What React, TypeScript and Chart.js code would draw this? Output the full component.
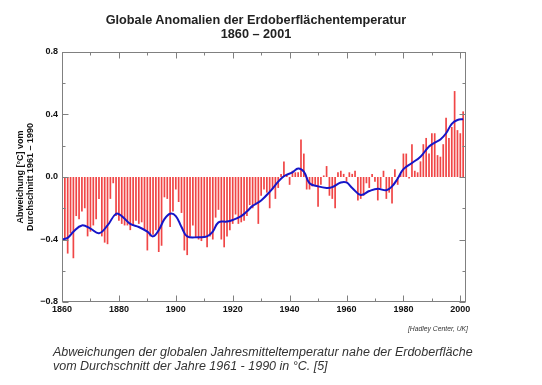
import React, { useEffect, useRef } from "react";
import { Chart, registerables } from "chart.js";

Chart.register(...registerables);

// ---- data (global temperature anomaly in °C vs. 1961-1990 mean) ----
const FIRST_YEAR = 1860;
const d1860 = [-0.33, -0.40, -0.49, -0.36, -0.52, -0.25, -0.27, -0.22, -0.20, -0.38];
const d1870 = [-0.35, -0.31, -0.27, -0.14, -0.38, -0.42, -0.43, -0.14, -0.04, -0.25];
const d1880 = [-0.28, -0.30, -0.31, -0.31, -0.34, -0.31, -0.28, -0.30, -0.29, -0.34];
const d1890 = [-0.47, -0.38, -0.37, -0.34, -0.48, -0.44, -0.13, -0.14, -0.32, -0.22];
const d1900 = [-0.08, -0.16, -0.23, -0.47, -0.50, -0.38, -0.31, -0.39, -0.40, -0.41];
const d1910 = [-0.39, -0.45, -0.38, -0.40, -0.26, -0.21, -0.40, -0.45, -0.38, -0.34];
const d1920 = [-0.30, -0.24, -0.30, -0.29, -0.28, -0.25, -0.18, -0.20, -0.18, -0.30];
const d1930 = [-0.12, -0.08, -0.10, -0.20, -0.08, -0.14, -0.07, 0.02, 0.10, 0.02];
const d1940 = [-0.05, 0.04, 0.03, 0.03, 0.24, 0.15, -0.08, -0.08, -0.06, -0.05];
const d1950 = [-0.19, -0.05, 0.01, 0.07, -0.12, -0.14, -0.20, 0.03, 0.04, 0.02];
const d1960 = [-0.03, 0.03, 0.02, 0.04, -0.15, -0.14, -0.12, -0.04, -0.07, 0.02];
const d1970 = [-0.03, -0.15, -0.07, 0.04, -0.14, -0.10, -0.17, 0.05, -0.05, 0.02];
const d1980 = [0.15, 0.15, -0.01, 0.21, 0.04, 0.03, 0.10, 0.21, 0.25, 0.15];
const d1990 = [0.28, 0.28, 0.14, 0.13, 0.21, 0.38, 0.25, 0.32, 0.55, 0.30];
const d2000 = [0.28, 0.42];

const anomalies = [
  ...d1860, ...d1870, ...d1880, ...d1890, ...d1900, ...d1910, ...d1920,
  ...d1930, ...d1940, ...d1950, ...d1960, ...d1970, ...d1980, ...d1990, ...d2000,
];
const years = anomalies.map((_, i) => FIRST_YEAR + i);

// smoothed curve
const smoothYears = [
  1860, 1862, 1864, 1867, 1870, 1873, 1876, 1879, 1881, 1884, 1887, 1890, 1892, 1894,
  1896, 1898, 1900, 1902, 1904, 1908, 1911, 1913, 1915, 1918, 1920, 1923, 1925, 1927,
  1930, 1933, 1936, 1938, 1941, 1943, 1945, 1947, 1950, 1953, 1955, 1958, 1960, 1962,
  1965, 1968, 1971, 1974, 1976, 1978, 1980, 1983, 1986, 1989, 1991, 1993, 1995, 1997,
  1999, 2001,
];
const smoothValues = [
  -0.40, -0.39, -0.35, -0.31, -0.33, -0.36, -0.31, -0.235, -0.25, -0.30, -0.32, -0.35, -0.38, -0.34,
  -0.27, -0.235, -0.25, -0.32, -0.38, -0.385, -0.38, -0.35, -0.29, -0.285, -0.275, -0.25, -0.22, -0.185,
  -0.15, -0.095, -0.03, 0.005, 0.03, 0.055, 0.035, -0.04, -0.06, -0.07, -0.065, -0.035, -0.035, -0.07,
  -0.115, -0.09, -0.075, -0.085, -0.06, -0.01, 0.05, 0.09, 0.13, 0.195, 0.22, 0.24, 0.28, 0.34,
  0.365, 0.37,
];

// axis ticks
const xLabelYears = [1860, 1880, 1900, 1920, 1940, 1960, 1980, 2000];
const xMinorYears = [1870, 1890, 1910, 1930, 1950, 1970, 1990];
const yLabelValues = [-0.8, -0.4, 0, 0.4, 0.8];
const yMinorValues = [-0.6, -0.2, 0.2, 0.6];
const X_MIN = 1860;
const X_MAX = 2002;
const Y_MIN = -0.8;
const Y_MAX = 0.8;

const FONT = '"Liberation Sans", Arial, Helvetica, sans-serif';

const fmtY = (v: number) => {
  const r = Math.round(v * 10) / 10;
  const s = Math.abs(r).toFixed(1);
  return r < 0 ? "\u2212" + s : s;
};

const frameTicksPlugin = {
  id: "frameTicks",
  afterDatasetsDraw(chart: any) {
    const { ctx, chartArea, scales } = chart;
    const xs = scales.x;
    const ys = scales.y;
    const l = Math.round(chartArea.left) + 0.5;
    const r = Math.round(chartArea.right) - 0.5;
    const t = Math.round(chartArea.top) + 0.5;
    const b = Math.round(chartArea.bottom) - 0.5;
    ctx.save();
    ctx.strokeStyle = "#808080";
    ctx.lineWidth = 1;
    ctx.strokeRect(l, t, r - l, b - t);
    ctx.beginPath();
    const xTick = (v: number, len: number) => {
      const px = Math.round(xs.getPixelForValue(v)) + 0.5;
      ctx.moveTo(px, b);
      ctx.lineTo(px, b - len);
      ctx.moveTo(px, t);
      ctx.lineTo(px, t + len);
    };
    const yTick = (v: number, len: number) => {
      const py = Math.round(ys.getPixelForValue(v)) + 0.5;
      ctx.moveTo(l, py);
      ctx.lineTo(l + len, py);
      ctx.moveTo(r, py);
      ctx.lineTo(r - len, py);
    };
    xLabelYears.forEach((v) => xTick(v, 6));
    xMinorYears.forEach((v) => xTick(v, 3));
    yLabelValues.forEach((v) => yTick(v, 6));
    yMinorValues.forEach((v) => yTick(v, 3));
    ctx.stroke();
    ctx.restore();
  },
};

export default function App() {
  const ref = useRef<HTMLCanvasElement>(null);

  useEffect(() => {
    if (!ref.current) return;
    const chart = new Chart(ref.current, {
      type: "bar",
      data: {
        datasets: [
          {
            type: "line",
            data: smoothYears.map((yr, i) => ({ x: yr, y: smoothValues[i] })),
            borderColor: "#1616c8",
            borderWidth: 2,
            pointRadius: 0,
            tension: 0.4,
            fill: false,
            order: 1,
          } as any,
          {
            type: "bar",
            data: years.map((yr, i) => ({ x: yr, y: anomalies[i] })),
            backgroundColor: "#f04646",
            borderWidth: 0,
            barPercentage: 0.6,
            categoryPercentage: 1,
            order: 2,
          } as any,
        ],
      },
      options: {
        responsive: false,
        animation: false,
        layout: { padding: { top: 52, right: 76, bottom: 0, left: 0 } },
        plugins: {
          legend: { display: false },
          tooltip: { enabled: false },
          title: { display: false },
        },
        scales: {
          x: {
            type: "linear",
            min: X_MIN,
            max: X_MAX,
            offset: false,
            grid: { display: false, drawTicks: false, offset: false },
            border: { display: false },
            afterBuildTicks: (s: any) => {
              s.ticks = xLabelYears.map((v) => ({ value: v }));
            },
            afterFit: (s: any) => {
              s.height = 83;
            },
            ticks: {
              autoSkip: false,
              maxRotation: 0,
              padding: 2,
              color: "#111",
              font: { family: FONT, size: 9, weight: "bold" },
              callback: (v: any) => String(v),
            },
          },
          y: {
            type: "linear",
            min: Y_MIN,
            max: Y_MAX,
            grid: { display: false, drawTicks: false },
            border: { display: false },
            afterBuildTicks: (s: any) => {
              s.ticks = yLabelValues.map((v) => ({ value: v }));
            },
            afterFit: (s: any) => {
              s.width = 62;
            },
            ticks: {
              padding: 4,
              color: "#111",
              font: { family: FONT, size: 9, weight: "bold" },
              callback: (v: any) => fmtY(Number(v)),
            },
            title: {
              display: true,
              text: ["Abweichung [°C] vom", "Durchschnitt 1961 \u2013 1990"],
              color: "#111",
              font: { family: FONT, size: 9, weight: "bold", lineHeight: 1.15 },
              padding: { top: 15, bottom: 0 },
            },
          },
        },
      } as any,
      plugins: [frameTicksPlugin],
    });
    return () => chart.destroy();
  }, []);

  return (
    <div
      style={{
        position: "fixed",
        left: 0,
        top: 0,
        width: 542,
        height: 385,
        background: "#fff",
        overflow: "hidden",
        fontFamily: FONT,
      }}
    >
      <canvas ref={ref} width={542} height={385} style={{ position: "absolute", left: 0, top: 0 }} />
      <div
        style={{
          position: "absolute",
          left: 0,
          width: 512,
          top: 13,
          textAlign: "center",
          fontWeight: "bold",
          fontSize: 12.7,
          lineHeight: "14px",
          color: "#222",
        }}
      >
        Globale Anomalien der Erdoberflächentemperatur
        <br />
        1860 – 2001
      </div>
      <div
        style={{
          position: "absolute",
          right: 74,
          top: 324,
          fontSize: 6.8,
          fontStyle: "italic",
          lineHeight: "9px",
          color: "#333",
          whiteSpace: "nowrap",
        }}
      >
        [Hadley Center, UK]
      </div>
      <div
        style={{
          position: "absolute",
          left: 53,
          top: 345,
          fontSize: 12.5,
          fontStyle: "italic",
          lineHeight: "14px",
          color: "#333",
          whiteSpace: "nowrap",
        }}
      >
        Abweichungen der globalen Jahresmitteltemperatur nahe der Erdoberfläche
        <br />
        vom Durchschnitt der Jahre 1961 - 1990 in °C. [5]
      </div>
    </div>
  );
}
